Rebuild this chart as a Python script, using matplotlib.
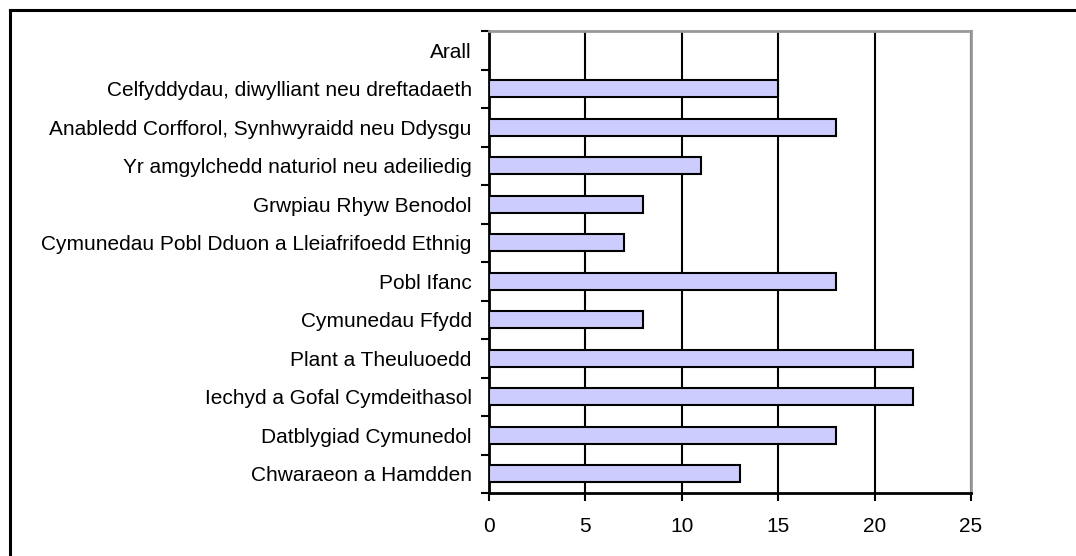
import matplotlib.pyplot as plt
from matplotlib.lines import Line2D
import numpy as np

plt.rcParams['font.family'] = ['Liberation Sans', 'DejaVu Sans']

# Data (bottom to top)
categories = ['Chwaraeon a Hamdden', 'Datblygiad Cymunedol', 'Iechyd a Gofal Cymdeithasol',
              'Plant a Theuluoedd', 'Cymunedau Ffydd', 'Pobl Ifanc',
              'Cymunedau Pobl Dduon a Lleiafrifoedd Ethnig', 'Grwpiau Rhyw Benodol',
              'Yr amgylchedd naturiol neu adeiliedig',
              'Anabledd Corfforol, Synhwyraidd neu Ddysgu',
              'Celfyddydau, diwylliant neu dreftadaeth', 'Arall']
values = [13, 18, 22, 22, 8, 18, 7, 8, 11, 18, 15, 0]
x_ticks = [0, 5, 10, 15, 20, 25]

# Layout
fig = plt.figure(figsize=(10.76, 5.56), dpi=100)
ax = fig.add_axes([489/1076, 1 - 493/556, (971 - 489)/1076, (493 - 31)/556])

# Plot
pos = np.arange(len(categories))
ax.barh(pos, values, height=0.45, color='#ccccff', edgecolor='black', linewidth=1.5, zorder=3)

# Details
ax.set_xlim(0, 25)
ax.set_ylim(-0.5, len(categories) - 0.5)
ax.set_xticks(x_ticks)
ax.set_yticks(pos)
ax.set_yticklabels(categories)
ax.set_yticks(np.arange(len(categories) + 1) - 0.5, minor=True)
ax.tick_params(axis='y', which='major', length=0, pad=12.5, labelsize=15)
ax.tick_params(axis='y', which='minor', length=6, width=1.5, direction='out')
ax.tick_params(axis='x', length=6, width=1.5, direction='out', pad=11, labelsize=15)
ax.xaxis.grid(True, color='black', linewidth=1.5, zorder=0)
ax.set_axisbelow(True)
for side in ['left', 'bottom']:
    ax.spines[side].set_linewidth(2)
    ax.spines[side].set_color('black')
for side in ['top', 'right']:
    ax.spines[side].set_linewidth(2)
    ax.spines[side].set_color('#999999')

# Outer frame (top and left edges)
fig.add_artist(Line2D([10/1076, 1], [1 - 10/556] * 2, color='black', linewidth=2.2))
fig.add_artist(Line2D([10/1076] * 2, [0, 1 - 10/556], color='black', linewidth=2.2))

# Output
fig.savefig('out.png', dpi=100)
